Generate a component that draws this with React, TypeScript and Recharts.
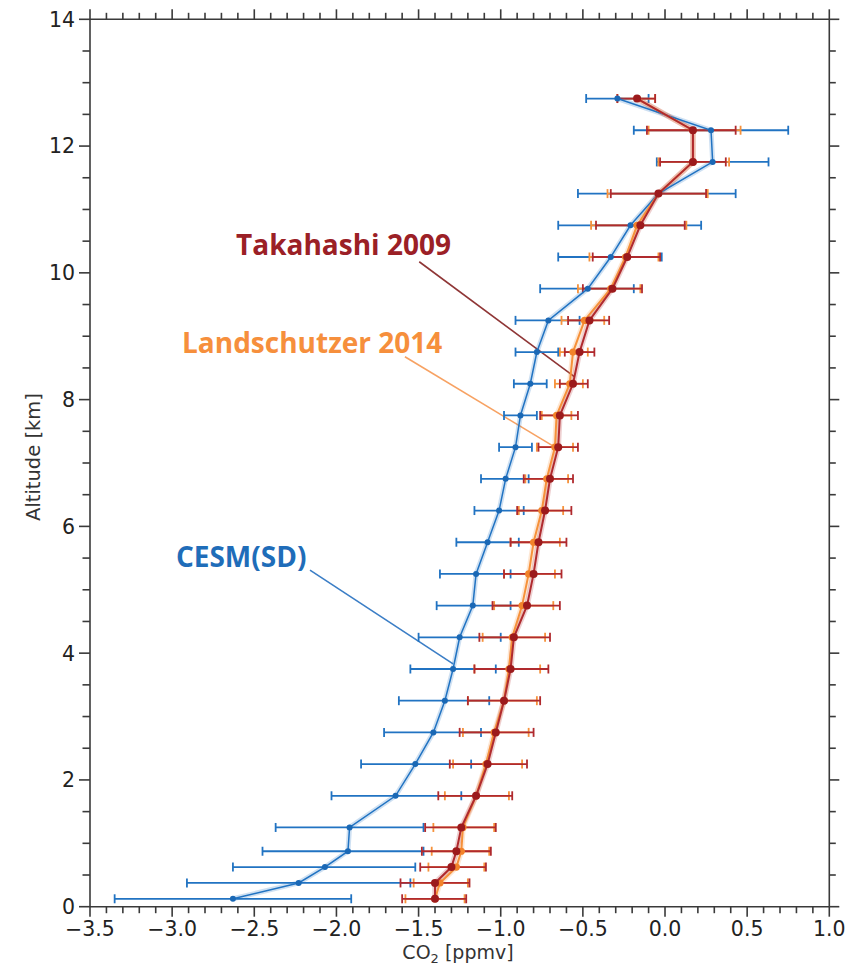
import React from 'react';
import {
  ScatterChart,
  Scatter,
  XAxis,
  YAxis,
  ErrorBar,
  ReferenceLine,
  ReferenceDot,
} from 'recharts';

// Altitude levels of the profile (km)
const altitudes = [
  0.125, 0.375, 0.625, 0.875, 1.25, 1.75, 2.25, 2.75, 3.25, 3.75, 4.25, 4.75, 5.25, 5.75,
  6.25, 6.75, 7.25, 7.75, 8.25, 8.75, 9.25, 9.75, 10.25, 10.75, 11.25, 11.75, 12.25, 12.75,
];

// CESM(SD): mean and spread bounds (ppmv)
const cesmMean = [
  -2.63, -2.23, -2.07, -1.93, -1.92, -1.64, -1.52, -1.41, -1.34, -1.29, -1.25, -1.17, -1.15, -1.08,
  -1.01, -0.97, -0.91, -0.88, -0.82, -0.78, -0.71, -0.47, -0.33, -0.21, -0.04, 0.29, 0.28, -0.29,
];
const cesmLow = [
  -3.35, -2.91, -2.63, -2.45, -2.37, -2.03, -1.85, -1.71, -1.62, -1.55, -1.5, -1.39, -1.37, -1.27,
  -1.16, -1.12, -1.01, -0.98, -0.92, -0.91, -0.91, -0.76, -0.65, -0.65, -0.53, -0.05, -0.19, -0.48,
];
const cesmHigh = [
  -1.91, -1.55, -1.52, -1.47, -1.47, -1.24, -1.18, -1.12, -1.07, -1.03, -1.0, -0.94, -0.94, -0.89,
  -0.86, -0.83, -0.81, -0.78, -0.72, -0.65, -0.52, -0.19, -0.02, 0.22, 0.43, 0.63, 0.75, -0.1,
];

// Landschutzer 2014
const landMean = [
  -1.4, -1.37, -1.27, -1.24, -1.23, -1.15, -1.09, -1.04, -0.98, -0.95, -0.93, -0.87, -0.83, -0.8,
  -0.75, -0.72, -0.67, -0.66, -0.58, -0.56, -0.49, -0.33, -0.24, -0.17, -0.04, 0.17, 0.17, -0.17,
];
const landLow = [
  -1.58, -1.53, -1.44, -1.42, -1.41, -1.34, -1.29, -1.23, -1.2, -1.16, -1.11, -1.04, -0.98, -0.94,
  -0.89, -0.85, -0.78, -0.75, -0.67, -0.64, -0.63, -0.53, -0.46, -0.45, -0.35, -0.04, -0.1, -0.29,
];
const landHigh = [
  -1.22, -1.2, -1.1, -1.07, -1.04, -0.95, -0.87, -0.83, -0.78, -0.76, -0.73, -0.68, -0.67, -0.64,
  -0.62, -0.59, -0.56, -0.57, -0.5, -0.47, -0.37, -0.15, -0.04, 0.13, 0.26, 0.39, 0.46, -0.06,
];

// Takahashi 2009
const takaMean = [
  -1.4, -1.4, -1.3, -1.27, -1.24, -1.15, -1.08, -1.03, -0.98, -0.94, -0.92, -0.84, -0.8, -0.77,
  -0.73, -0.7, -0.65, -0.64, -0.56, -0.52, -0.46, -0.32, -0.23, -0.15, -0.04, 0.17, 0.17, -0.17,
];
const takaLow = [
  -1.6, -1.61, -1.49, -1.48, -1.46, -1.38, -1.31, -1.25, -1.2, -1.16, -1.13, -1.05, -0.98, -0.94,
  -0.9, -0.86, -0.77, -0.76, -0.64, -0.61, -0.59, -0.5, -0.44, -0.42, -0.33, -0.03, -0.11, -0.29,
];
const takaHigh = [
  -1.21, -1.19, -1.09, -1.06, -1.03, -0.93, -0.84, -0.8, -0.76, -0.71, -0.7, -0.64, -0.63, -0.6,
  -0.57, -0.56, -0.53, -0.53, -0.47, -0.43, -0.34, -0.14, -0.03, 0.12, 0.25, 0.37, 0.43, -0.06,
];

// Axis tick labels
const xMajorTicks = [-3.5, -3.0, -2.5, -2.0, -1.5, -1.0, -0.5, 0.0, 0.5, 1.0];
const yMajorTicks = [0, 2, 4, 6, 8, 10, 12, 14];
const X_MINOR_PER_MAJOR = 5;
const Y_MINOR_PER_MAJOR = 4;

const BLUE = '#2173c2';
const BLUE_DOT = '#1a68b5';
const ORANGE = '#f6913a';
const ORANGE_DOT = '#f2832a';
const RED = '#b02a2e';
const RED_DOT = '#9c1a1c';
const AXIS = '#3a3a3a';
const TICK_FONT = '"DejaVu Sans", sans-serif';
const LABEL_FONT = '"Open Sans", "Noto Sans", sans-serif';

type Row = { alt: number; x: number; err: [number, number] };

const buildProfile = (mean: number[], low: number[], high: number[]): Row[] =>
  altitudes.map((alt, i) => ({
    alt,
    x: mean[i],
    err: [mean[i] - low[i], high[i] - mean[i]],
  }));

const cesm = buildProfile(cesmMean, cesmLow, cesmHigh);
const land = buildProfile(landMean, landLow, landHigh);
const taka = buildProfile(takaMean, takaLow, takaHigh);

const subdivide = (majors: number[], parts: number): number[] => {
  const out: number[] = [];
  for (let i = 0; i < majors.length - 1; i++) {
    const step = (majors[i + 1] - majors[i]) / parts;
    for (let k = 0; k < parts; k++) out.push(Math.round((majors[i] + k * step) * 1000) / 1000);
  }
  out.push(majors[majors.length - 1]);
  return out;
};

const xTicks = subdivide(xMajorTicks, X_MINOR_PER_MAJOR);
const yTicks = subdivide(yMajorTicks, Y_MINOR_PER_MAJOR);

const isMajor = (v: number, majors: number[]) => majors.some((m) => Math.abs(m - v) < 1e-6);
const fmtX = (v: number) => (Math.abs(v) < 1e-9 ? '0.0' : v.toFixed(1).replace('-', '\u2212'));

const MAJOR_LEN = 10;
const MINOR_LEN = 6.5;

const BottomTick = (props: any) => {
  const { x, y, payload } = props;
  const major = isMajor(payload.value, xMajorTicks);
  return (
    <g>
      <line x1={x} x2={x} y1={y} y2={y + (major ? MAJOR_LEN : MINOR_LEN)} stroke={AXIS} strokeWidth={1.6} />
      {major && (
        <text x={x} y={y + 29} textAnchor="middle" fontSize={20.5} fill="#222" fontFamily={TICK_FONT}>
          {fmtX(payload.value)}
        </text>
      )}
    </g>
  );
};

const TopTick = (props: any) => {
  const { x, y, payload } = props;
  const major = isMajor(payload.value, xMajorTicks);
  return <line x1={x} x2={x} y1={y} y2={y - (major ? MAJOR_LEN : MINOR_LEN)} stroke={AXIS} strokeWidth={1.6} />;
};

const LeftTick = (props: any) => {
  const { x, y, payload } = props;
  const major = isMajor(payload.value, yMajorTicks);
  return (
    <g>
      <line x1={x} x2={x - (major ? MAJOR_LEN + 1 : MINOR_LEN + 1)} y1={y} y2={y} stroke={AXIS} strokeWidth={1.6} />
      {major && (
        <text x={x - 15} y={y + 7.4} textAnchor="end" fontSize={20.5} fill="#222" fontFamily={TICK_FONT}>
          {String(payload.value)}
        </text>
      )}
    </g>
  );
};

const RightTick = (props: any) => {
  const { x, y, payload } = props;
  const major = isMajor(payload.value, yMajorTicks);
  return <line x1={x} x2={x + (major ? MAJOR_LEN : MINOR_LEN)} y1={y} y2={y} stroke={AXIS} strokeWidth={1.6} />;
};

const dot = (r: number, fill: string) => (props: any) =>
  <circle cx={props.cx} cy={props.cy} r={r} fill={fill} stroke="none" />;
const noDot = () => <g />;

// Series labels with their leader lines (start in data space, end on a profile point)
const annotations = [
  {
    text: 'Takahashi 2009',
    color: '#9b2026',
    lineColor: '#8f3636',
    at: { x: -2.611, y: 10.28 },
    from: { x: -1.496, y: 10.175 },
    to: { x: taka[18].x + 0.01, y: taka[18].alt + 0.11 },
  },
  {
    text: 'Landschutzer 2014',
    color: '#f68f3c',
    lineColor: '#f7a263',
    at: { x: -2.94, y: 8.735 },
    from: { x: -1.583, y: 8.676 },
    to: { x: land[16].x, y: land[16].alt },
  },
  {
    text: 'CESM(SD)',
    color: '#1f6db9',
    lineColor: '#3b7ec6',
    at: { x: -2.977, y: 5.36 },
    from: { x: -2.161, y: 5.31 },
    to: { x: cesm[9].x, y: cesm[9].alt + 0.08 },
  },
];

const xTitle = () => (
  <text x={450} y={951} textAnchor="middle" fontSize={19} fill="#333" fontFamily={TICK_FONT}>
    <tspan>CO</tspan>
    <tspan fontSize={13} dy={4}>2</tspan>
    <tspan dy={-4}> [ppmv]</tspan>
  </text>
);

const yTitle = () => (
  <text
    x={25}
    y={449}
    textAnchor="middle"
    dominantBaseline="central"
    fontSize={19.5}
    fill="#333"
    fontFamily={TICK_FONT}
    transform="rotate(-90, 25, 449)"
  >
    Altitude [km]
  </text>
);

const series = [
  { key: 'cesm', data: cesm, color: BLUE, dotColor: BLUE_DOT, r: 3, lw: 1.5 },
  { key: 'land', data: land, color: ORANGE, dotColor: ORANGE_DOT, r: 3.6, lw: 2 },
  { key: 'taka', data: taka, color: RED, dotColor: RED_DOT, r: 4, lw: 2 },
];

export default function App() {
  return (
    <ScatterChart width={846} height={963} margin={{ top: 1.3, right: 14.7, bottom: 0, left: 0 }}>
      <XAxis
        xAxisId="b"
        orientation="bottom"
        type="number"
        dataKey="x"
        domain={[-3.5, 1]}
        allowDataOverflow
        ticks={xTicks}
        interval={0}
        tickSize={0}
        tickMargin={0}
        tickLine={false}
        tick={BottomTick}
        axisLine={{ stroke: AXIS, strokeWidth: 1.6 }}
        height={64.3}
        label={xTitle}
      />
      <XAxis
        xAxisId="t"
        orientation="top"
        type="number"
        dataKey="x"
        domain={[-3.5, 1]}
        allowDataOverflow
        ticks={xTicks}
        interval={0}
        tickSize={0}
        tickMargin={0}
        tickLine={false}
        tick={TopTick}
        axisLine={{ stroke: AXIS, strokeWidth: 1.6 }}
        height={10}
      />
      <YAxis
        yAxisId="l"
        orientation="left"
        type="number"
        dataKey="alt"
        domain={[0, 14]}
        allowDataOverflow
        ticks={yTicks}
        interval={0}
        tickSize={0}
        tickMargin={0}
        tickLine={false}
        tick={LeftTick}
        axisLine={{ stroke: AXIS, strokeWidth: 1.6 }}
        width={82}
        label={yTitle}
      />
      <YAxis
        yAxisId="r"
        orientation="right"
        type="number"
        dataKey="alt"
        domain={[0, 14]}
        allowDataOverflow
        ticks={yTicks}
        interval={0}
        tickSize={0}
        tickMargin={0}
        tickLine={false}
        tick={RightTick}
        axisLine={{ stroke: AXIS, strokeWidth: 1.6 }}
        width={10}
      />

      {annotations.map((a) => (
        <ReferenceLine
          key={`lead-${a.text}`}
          xAxisId="b"
          yAxisId="l"
          segment={[a.from, a.to]}
          stroke={a.lineColor}
          strokeWidth={1.6}
          ifOverflow="visible"
        />
      ))}

      {series.map((s) => (
        <Scatter
          key={`${s.key}-halo`}
          xAxisId="b"
          yAxisId="l"
          data={s.data}
          line={{ stroke: s.color, strokeWidth: s.lw + 3.5, strokeOpacity: 0.22 }}
          shape={noDot}
          isAnimationActive={false}
        />
      ))}
      {series.map((s) => (
        <Scatter
          key={s.key}
          xAxisId="b"
          yAxisId="l"
          data={s.data}
          line={{ stroke: s.color, strokeWidth: s.lw }}
          shape={dot(s.r, s.dotColor)}
          isAnimationActive={false}
        >
          <ErrorBar
            dataKey="err"
            direction="x"
            width={4.5}
            stroke={s.color}
            strokeWidth={1.8}
            isAnimationActive={false}
          />
        </Scatter>
      ))}

      {annotations.map((a) => (
        <ReferenceDot
          key={`label-${a.text}`}
          xAxisId="b"
          yAxisId="l"
          x={a.at.x}
          y={a.at.y}
          r={0}
          ifOverflow="visible"
          shape={(p: any) => (
            <text
              x={p.cx}
              y={p.cy}
              fontSize={28}
              fontWeight={700}
              fill={a.color}
              fontFamily={LABEL_FONT}
            >
              {a.text}
            </text>
          )}
        />
      ))}
    </ScatterChart>
  );
}
